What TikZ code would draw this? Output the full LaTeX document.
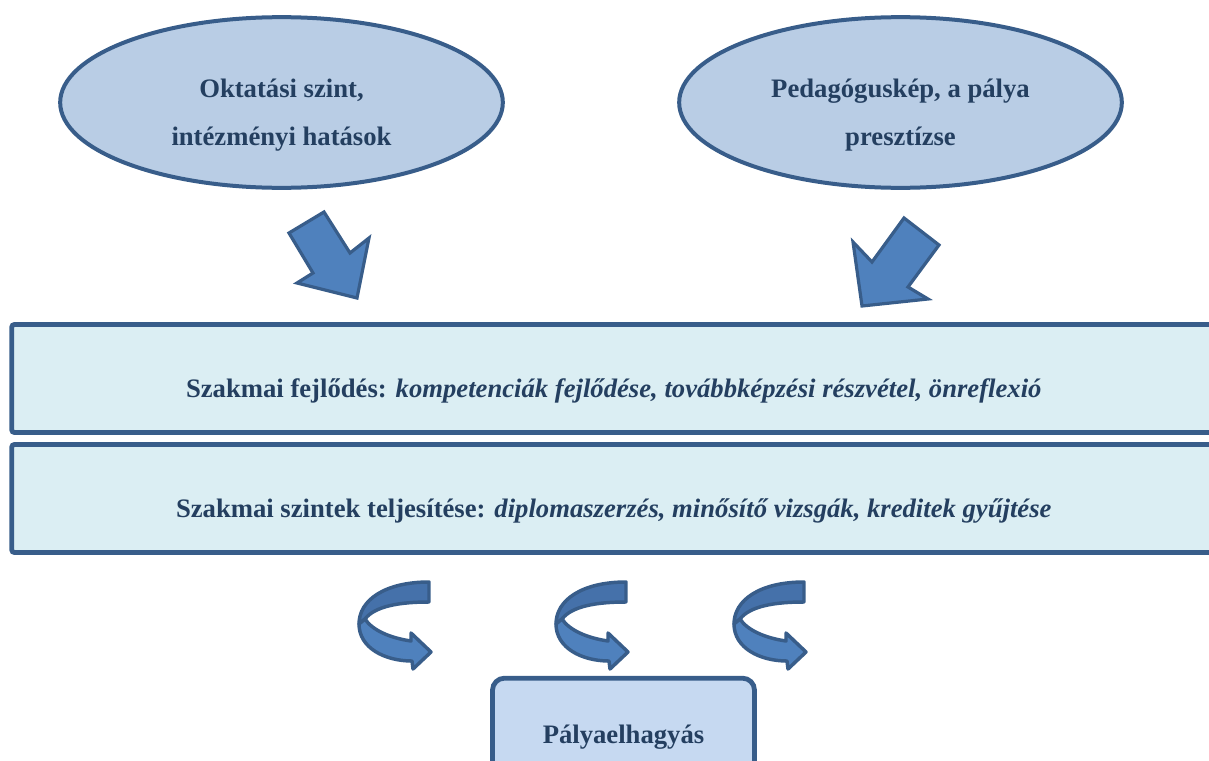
\documentclass[tikz,border=0pt]{standalone}
\usepackage{fontspec}
\setmainfont{Liberation Serif}
\usetikzlibrary{shapes.geometric}

\definecolor{edgeblue}{HTML}{385D8A}
\definecolor{ovalfill}{HTML}{B9CDE5}
\definecolor{bandfill}{HTML}{DBEEF3}
\definecolor{exitfill}{HTML}{C6D9F1}
\definecolor{arrowfill}{HTML}{4F81BD}
\definecolor{arrowback}{HTML}{4571AA}
\definecolor{inkblue}{HTML}{243F60}

\newcommand{\ovalstrut}{\rule{0pt}{33pt}}

\tikzset{
  oval/.style={ellipse, draw=edgeblue, fill=ovalfill, line width=3pt,
    minimum width=332pt, minimum height=128pt, inner sep=0pt,
    align=center, text=inkblue, font=\fontsize{20}{36}\selectfont\bfseries},
  band/.style={rectangle, rounded corners=2pt, draw=edgeblue, fill=bandfill,
    line width=3.6pt, minimum width=903pt, minimum height=81pt, inner sep=0pt,
    text=inkblue, font=\fontsize{20}{24}\selectfont\bfseries,
    text height=30pt, text depth=2.2pt},
  exitbox/.style={rectangle, rounded corners=9pt, draw=edgeblue, fill=exitfill,
    line width=3.6pt, minimum width=196.5pt, minimum height=80pt, inner sep=0pt,
    text=inkblue, font=\fontsize{20}{24}\selectfont\bfseries,
    text height=19.5pt, text depth=2.2pt},
  blockarrow/.style={draw=edgeblue, fill=arrowfill, line width=2.4pt, line join=miter},
  turnback/.style={draw=edgeblue, fill=arrowback, line width=2.6pt, line join=round},
  turnfront/.style={draw=edgeblue, fill=arrowfill, line width=2.6pt, line join=round},
}

\begin{document}
\begin{tikzpicture}[x=0.75pt, y=-0.75pt]
\useasboundingbox (0,0) rectangle (1209,760);
\clip (0,0) rectangle (1209,760);

% influencing factors
\node[oval] (school) at (281.5,102.5) {\ovalstrut Oktatási szint,\\intézményi hatások};
\node[oval] (image) at (900.5,102.5) {\ovalstrut Pedagóguskép, a pálya\\presztízse};

% block arrows pointing at the professional bands
\draw[blockarrow] (324,212) -- (350,253) -- (369,238) -- (357,298)
  -- (297,283) -- (313,273) -- (289,233) -- cycle;
\draw[blockarrow] (904,218) -- (939,245) -- (908,287) -- (928,299)
  -- (862,306) -- (853,242) -- (872,262) -- cycle;

% the two professional bands
\node[band] (growth) at (613.75,378.5)
  {Szakmai fejlődés: \textit{kompetenciák fejlődése, továbbképzési részvétel, önreflexió}};
\node[band] (levels) at (613.75,498.5)
  {Szakmai szintek teljesítése: \textit{diplomaszerzés, minősítő vizsgák, kreditek gyűjtése}};

% turning ribbon arrows
\foreach \dx in {0,197,375}{
  \begin{scope}[shift={(\dx,0)}]
    \draw[turnback] (429,582) .. controls (385,582) and (359,600) .. (359,624)
      -- (365,619) .. controls (375,606) and (400,602) .. (429,602) -- cycle;
    \draw[turnfront] (359,624) .. controls (359,648) and (385,661) .. (412,661)
      -- (413,669) -- (431,652) -- (411,633) -- (411,641)
      .. controls (390,638) and (372,630) .. (365,619) -- cycle;
  \end{scope}
}

% leaving the profession
\node[exitbox] (leave) at (623.5,731.5) {Pályaelhagyás};
\end{tikzpicture}
\end{document}
